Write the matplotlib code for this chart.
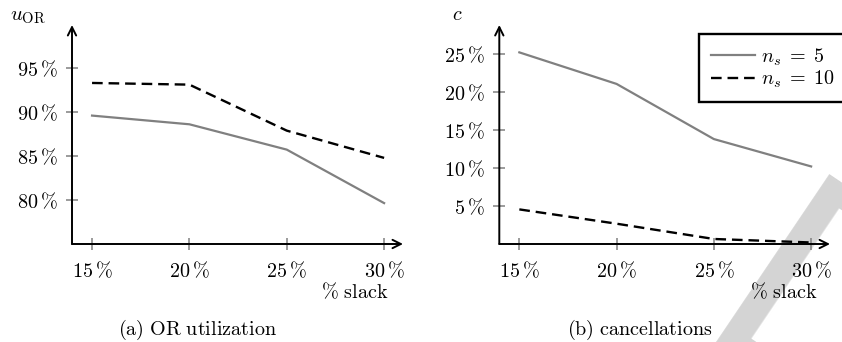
import matplotlib
matplotlib.use("Agg")
import matplotlib.pyplot as plt

plt.rcParams['mathtext.fontset'] = 'cm'
plt.rcParams['font.family'] = ['cmr10', 'DejaVu Serif']
plt.rcParams['axes.unicode_minus'] = False

# ---- data ----
slack = [15, 20, 25, 30]
slack_labels = [r'$15\,\%$', r'$20\,\%$', r'$25\,\%$', r'$30\,\%$']

util_ns5 = [89.55, 88.56, 85.68, 79.6]
util_ns10 = [93.26, 93.07, 87.84, 84.74]
util_ticks = [80, 85, 90, 95]
util_labels = [r'$80\,\%$', r'$85\,\%$', r'$90\,\%$', r'$95\,\%$']

canc_ns5 = [25.2, 21.05, 13.8, 10.2]
canc_ns10 = [4.55, 2.67, 0.66, 0.2]
canc_ticks = [5, 10, 15, 20, 25]
canc_labels = [r'$5\,\%$', r'$10\,\%$', r'$15\,\%$', r'$20\,\%$', r'$25\,\%$']

series_labels = [r'$n_s \;=\; 5$', r'$n_s \;=\; 10$']

W, H = 842, 342
fig = plt.figure(figsize=(W / 100, H / 100), dpi=100)


def px(x0, y0, x1, y1):
    return [x0 / W, 1 - y1 / H, (x1 - x0) / W, (y1 - y0) / H]


FS = 14.5
GRAY = '#808080'


def style_axes(ax, ylim, yticks, ylabels):
    ax.set_xlim(13.97, 30.97)
    ax.set_ylim(*ylim)
    for s in ['top', 'right', 'left', 'bottom']:
        ax.spines[s].set_visible(False)
    ax.patch.set_alpha(0)
    ax.set_xticks(slack)
    ax.set_xticklabels(slack_labels, fontsize=FS)
    ax.set_yticks(yticks)
    ax.set_yticklabels(ylabels, fontsize=FS)
    ax.tick_params(axis='both', direction='inout', length=8.5, width=1.1,
                   color=GRAY)
    ax.tick_params(axis='y', pad=6)
    ax.tick_params(axis='x', pad=8)
    arrow = dict(arrowstyle='->,head_length=0.6,head_width=0.3', lw=1.4,
                 color='black', shrinkA=0, shrinkB=0)
    ax.annotate('', xy=(1, 0), xytext=(0, 0), xycoords='axes fraction',
                textcoords='axes fraction', arrowprops=arrow, zorder=5)
    ax.annotate('', xy=(0, 1), xytext=(0, 0), xycoords='axes fraction',
                textcoords='axes fraction', arrowprops=arrow, zorder=5)


# page watermark, behind everything
fig.text(688 / W, 1 - 342 / H, 'DRAFT', fontsize=200, color='#d4d4d4',
         rotation=-34, rotation_mode='anchor', ha='left', va='baseline',
         fontfamily='DejaVu Sans', zorder=-10)

ax1 = fig.add_axes(px(72, 25, 403, 244))
ax1.plot(slack, util_ns5, color=GRAY, lw=1.6)
ax1.plot(slack, util_ns10, color='black', lw=1.7, dashes=(4.5, 2.5))
style_axes(ax1, (74.95, 99.85), util_ticks, util_labels)

ax2 = fig.add_axes(px(499.3, 25, 830, 244))
l1, = ax2.plot(slack, canc_ns5, color=GRAY, lw=1.6)
l2, = ax2.plot(slack, canc_ns10, color='black', lw=1.7, dashes=(4.5, 2.5))
style_axes(ax2, (0, 28.8), canc_ticks, canc_labels)

leg = fig.legend([l1, l2], series_labels, loc='upper left',
                 bbox_to_anchor=(698.7 / W, 1 - 101 / H, 160 / W, 66.7 / H),
                 mode='expand', borderaxespad=0,
                 fontsize=FS, fancybox=False, framealpha=1,
                 edgecolor='black', handlelength=2.2, handletextpad=0.3,
                 borderpad=0.6, labelspacing=0.05)
leg.get_frame().set_linewidth(1.7)
leg.set_zorder(20)

# axis labels
fig.text(10 / W, 1 - 17 / H, r'$u_{\mathrm{OR}}$', fontsize=FS + 0.5,
         ha='left', va='center')
fig.text(452 / W, 1 - 15 / H, r'$c$', fontsize=FS, ha='left', va='center')
fig.text(388 / W, 1 - 292 / H, r'$\%\ \mathrm{slack}$', fontsize=FS,
         ha='right', va='center')
fig.text(817 / W, 1 - 292 / H, r'$\%\ \mathrm{slack}$', fontsize=FS,
         ha='right', va='center')

# captions
fig.text(197 / W, 1 - 330 / H, r'$\mathrm{(a)\ OR\ utilization}$',
         fontsize=FS, ha='center', va='center')
fig.text(640 / W, 1 - 330 / H, r'$\mathrm{(b)\ cancellations}$',
         fontsize=FS, ha='center', va='center')

fig.savefig('out.png', dpi=100)
